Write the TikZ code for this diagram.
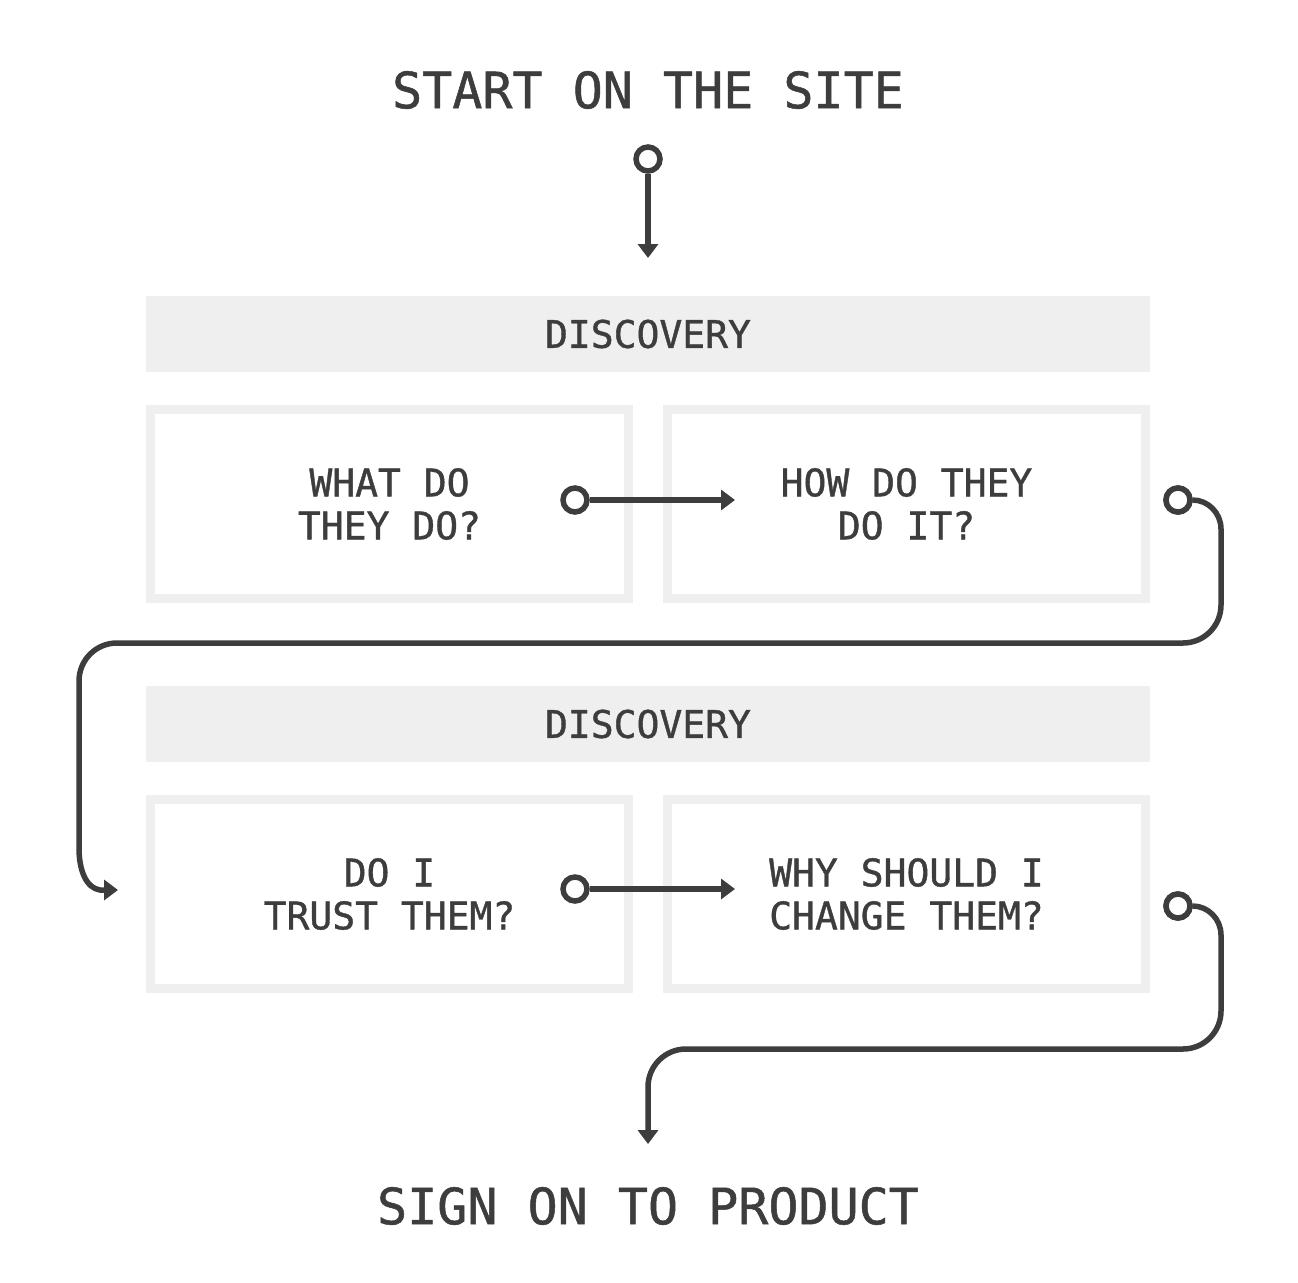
\documentclass[tikz,border=0pt]{standalone}
\usepackage{fontspec}
\setmonofont[FakeBold=1]{DejaVu Sans Mono}
\usetikzlibrary{arrows.meta}
\definecolor{ink}{HTML}{3D3D3D}
\definecolor{pale}{HTML}{EFEFEF}
\begin{document}
\begin{tikzpicture}[x=1pt,y=-1pt,
  titletext/.style={text=ink,font=\ttfamily\fontsize{50}{60}\selectfont,inner sep=0pt},
  band/.style={fill=pale,draw=none,minimum width=1004pt,minimum height=76pt,inner sep=0pt,
    text=ink,font=\ttfamily\fontsize{38}{43}\selectfont},
  qbox/.style={draw=pale,line width=9pt,minimum width=478pt,minimum height=189pt,inner sep=0pt,
    text=ink,font=\ttfamily\fontsize{38}{43}\selectfont,align=center},
  ring/.style={circle,draw=ink,line width=5.5pt,minimum size=24pt,inner sep=0pt,fill=white},
  flow/.style={draw=ink,line width=5.5pt,-{Triangle[length=14pt,width=20pt]}}]
\useasboundingbox (0,0) rectangle (1298,1282);
\fill[white] (0,0) rectangle (1298,1282);

\node[titletext] (start) at (648,90) {START ON THE SITE};
\node[ring] (r0) at (648,159) {};
\coordinate (t0) at (648,258);

\node[band] (d1) at (648,334) {DISCOVERY};
\node[qbox] (q1) at (389.5,504) {WHAT DO\\THEY DO?};
\node[qbox] (q2) at (906.5,504) {HOW DO THEY\\DO IT?};
\node[ring] (r1) at (575,500) {};
\coordinate (t1) at (735,500);
\node[ring] (r2) at (1178,500) {};
\coordinate (t2) at (118,890);

\node[band] (d2) at (648,724) {DISCOVERY};
\node[qbox] (q3) at (389.5,894) {DO I\\TRUST THEM?};
\node[qbox] (q4) at (906.5,894) {WHY SHOULD I\\CHANGE THEM?};
\node[ring] (r3) at (575,889) {};
\coordinate (t3) at (735,889);
\node[ring] (r4) at (1178,906) {};
\coordinate (t4) at (648,1144);

\node[titletext] (sign) at (648,1206) {SIGN ON TO PRODUCT};

\draw[flow] (r0.south) -- (t0);
\draw[flow] (r1.east) -- (t1);
\draw[flow] (r3.east) -- (t3);
\draw[flow] (r2.east) .. controls (1208,500) and (1221,513) .. (1221,529)
  -- (1221,605) .. controls (1221,626) and (1204,643) .. (1183,643)
  -- (117,643) .. controls (96,643) and (79,660) .. (79,681)
  -- (79,848) .. controls (79,870) and (86,888) .. (100,890) -- (t2);
\draw[flow] (r4.east) .. controls (1208,906) and (1221,919) .. (1221,935)
  -- (1221,1011) .. controls (1221,1032) and (1204,1049) .. (1183,1049)
  -- (686,1049) .. controls (665,1049) and (648,1066) .. (648,1087) -- (t4);
\node[ring] at (r2) {};
\node[ring] at (r4) {};
\end{tikzpicture}
\end{document}
